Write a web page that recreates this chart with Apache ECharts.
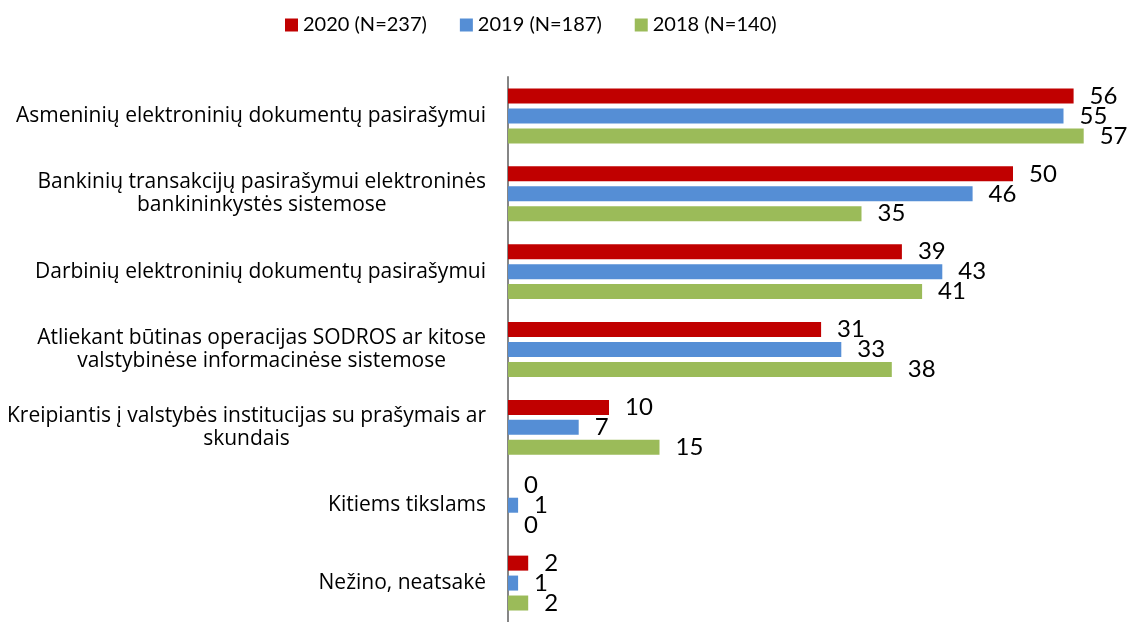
<!DOCTYPE html>
<html>
<head>
<meta charset="utf-8">
<script src="https://cdn.jsdelivr.net/npm/echarts@6/dist/echarts.min.js"></script>
<style>
  html, body { margin: 0; padding: 0; background: #fff; }
  #chart { width: 1129px; height: 622px; }
</style>
</head>
<body>
<div id="chart"></div>
<script>
// kategorijos (iš viršaus į apačią)
const categories = [
  "Asmeninių elektroninių dokumentų pasirašymui",
  "Bankinių transakcijų pasirašymui elektroninės\nbankininkystės sistemose",
  "Darbinių elektroninių dokumentų pasirašymui",
  "Atliekant būtinas operacijas SODROS ar kitose\nvalstybinėse informacinėse sistemose",
  "Kreipiantis į valstybės institucijas su prašymais ar\nskundais",
  "Kitiems tikslams",
  "Nežino, neatsakė"
];
const seriesNames = ["2020 (N=237)", "2019 (N=187)", "2018 (N=140)"];
const values2020 = [56, 50, 39, 31, 10, 0, 2];
const values2019 = [55, 46, 43, 33, 7, 1, 1];
const values2018 = [57, 35, 41, 38, 15, 0, 2];
const colors = ["#C00000", "#558ED5", "#9BBB59"];

const FONT = "Lato";
const LABEL_FONT = "Open Sans";
const chart = echarts.init(document.getElementById("chart"));

function barSeries(name, data, color) {
  return {
    name: name,
    type: "bar",
    data: data,
    barWidth: 15,
    barGap: "33%",
    itemStyle: { color: color },
    label: {
      show: true,
      position: "right",
      distance: 16,
      color: "#000",
      fontFamily: FONT,
      fontSize: 24
    },
    animation: false
  };
}

const option = {
  animation: false,
  legend: {
    top: 10,
    left: 280,
    icon: "rect",
    itemWidth: 13,
    itemHeight: 13,
    itemGap: 33,
    textStyle: { fontFamily: FONT, fontSize: 20, color: "#000" },
    data: seriesNames
  },
  grid: { left: 508, right: 15, top: 77, bottom: -3, containLabel: false },
  xAxis: {
    type: "value",
    min: 0,
    max: 60,
    show: false
  },
  yAxis: {
    type: "category",
    inverse: true,
    data: categories,
    axisLine: { show: true, lineStyle: { color: "#868686", width: 2 } },
    axisTick: { show: false },
    axisLabel: {
      margin: 22,
      formatter: function (v) {
        // kiekviena eilutė centruojama bloke
        return v.split("\n").map(function (s) { return "{c|" + s + "}"; }).join("\n");
      },
      rich: {
        c: { align: "center", fontFamily: LABEL_FONT, fontSize: 21, color: "#000", lineHeight: 23 }
      }
    }
  },
  series: [
    barSeries(seriesNames[0], values2020, colors[0]),
    barSeries(seriesNames[1], values2019, colors[1]),
    barSeries(seriesNames[2], values2018, colors[2])
  ]
};

chart.setOption(option);
</script>
</body>
</html>
